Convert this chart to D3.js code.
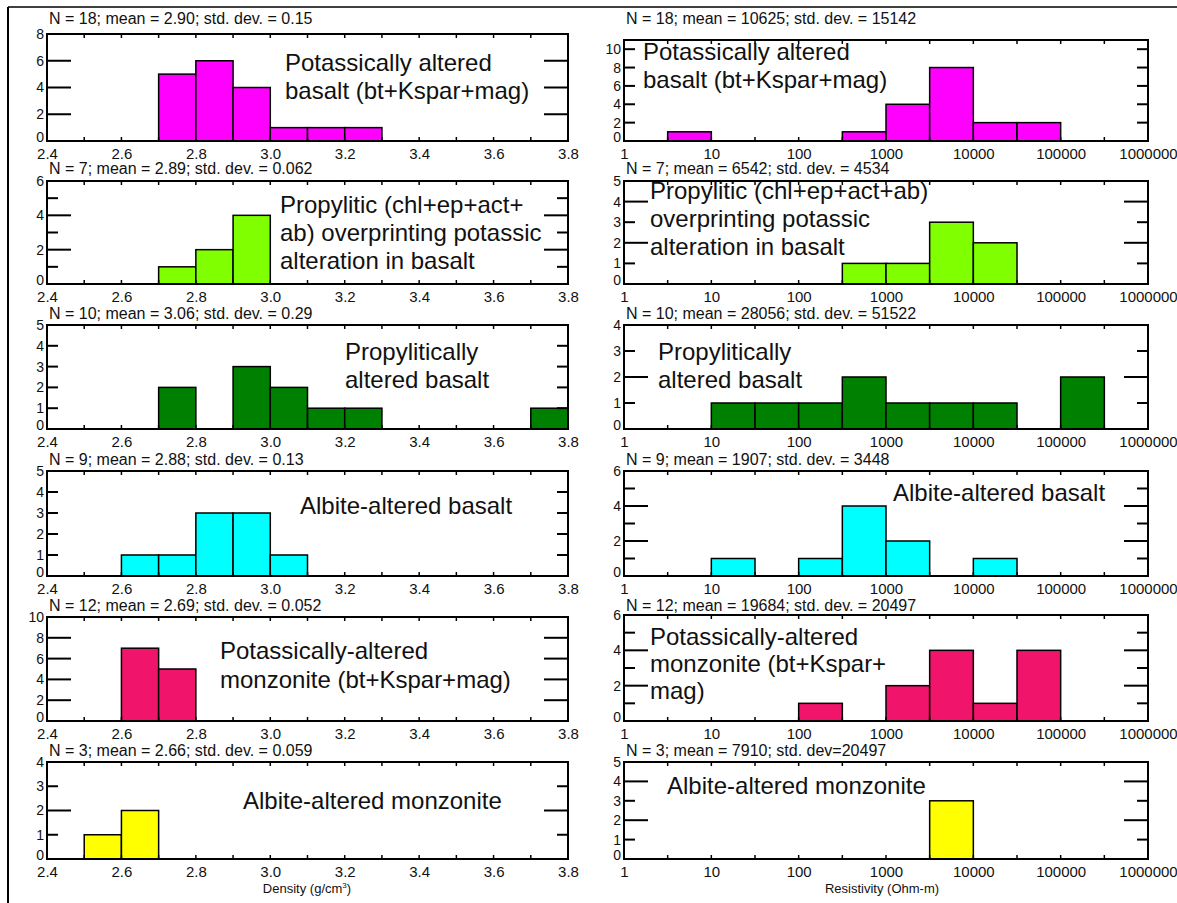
<!DOCTYPE html>
<html><head><meta charset="utf-8">
<script src="https://cdn.jsdelivr.net/npm/d3@7"></script>
<style>
body{margin:0;background:#fff;}
svg{display:block;}
text{font-family:"Liberation Sans",Arial,sans-serif;fill:#111;}
</style></head>
<body><svg id="c" width="1177" height="903"></svg>
<script>
// ---------- DATA ----------
const densityEdges = [2.4,2.5,2.6,2.7,2.8,2.9,3.0,3.1,3.2,3.3,3.4,3.5,3.6,3.7,3.8];
const densityTickVals = [2.4,2.6,2.8,3.0,3.2,3.4,3.6,3.8];
const densityTickLabels = ["2.4","2.6","2.8","3.0","3.2","3.4","3.6","3.8"];
const resistivityEdgesExp = [0,0.5,1,1.5,2,2.5,3,3.5,4,4.5,5,5.5,6];
const resistivityTickVals = [1,10,100,1000,10000,100000,1000000];
const resistivityTickLabels = ["1","10","100","1000","10000","100000","1000000"];

const colors = ["#ff00ff","#7fff00","#008000","#00ffff","#f0146a","#ffff00"];

const densityCounts = [
  [0,0,0,5,6,4,1,1,1,0,0,0,0,0],
  [0,0,0,1,2,4,0,0,0,0,0,0,0,0],
  [0,0,0,2,0,3,2,1,1,0,0,0,0,1],
  [0,0,1,1,3,3,1,0,0,0,0,0,0,0],
  [0,0,7,5,0,0,0,0,0,0,0,0,0,0],
  [0,1,2,0,0,0,0,0,0,0,0,0,0,0]
];
const resistivityCounts = [
  [0,1,0,0,0,1,4,8,2,2,0,0],
  [0,0,0,0,0,1,1,3,2,0,0,0],
  [0,0,1,1,1,2,1,1,1,0,2,0],
  [0,0,1,0,1,4,2,0,1,0,0,0],
  [0,0,0,0,1,0,2,4,1,4,0,0],
  [0,0,0,0,0,0,0,3,0,0,0,0]
];
const densityStats = [
  "N = 18; mean = 2.90; std. dev. = 0.15",
  "N = 7; mean = 2.89; std. dev. = 0.062",
  "N = 10; mean = 3.06; std. dev. = 0.29",
  "N = 9; mean = 2.88; std. dev. = 0.13",
  "N = 12; mean = 2.69; std. dev. = 0.052",
  "N = 3; mean = 2.66; std. dev. = 0.059"
];
const resistivityStats = [
  "N = 18; mean = 10625; std. dev. = 15142",
  "N = 7; mean = 6542; std. dev. = 4534",
  "N = 10; mean = 28056; std. dev. = 51522",
  "N = 9; mean = 1907; std. dev. = 3448",
  "N = 12; mean = 19684; std. dev. = 20497",
  "N = 3; mean = 7910; std. dev=20497"
];
const densityYMax = [8,6,5,5,10,4];
const densityYLabels = [[0,2,4,6,8],[0,2,4,6],[0,1,2,3,4,5],[0,1,2,3,4,5],[0,2,4,6,8,10],[0,1,2,3,4]];
const densityYTicks = [[2,4,6],[1,2,3,4,5],[1,2,3,4],[1,2,3,4],[2,4,6,8],[1,2,3]];
const densityLongTicks = [[2,4,6],[2,4],[],[],[2,4,6,8],[2]];
const resistivityYMax = [11,5,4,6,6,5];
const resistivityYLabels = [[0,2,4,6,8,10],[0,1,2,3,4,5],[0,1,2,3,4],[0,2,4,6],[0,2,4,6],[0,1,2,3,4,5]];
const resistivityYTicks = [[2,4,6,8,10],[1,2,3,4],[1,2,3],[1,2,3,4,5],[1,2,3,4,5],[1,2,3,4]];
const resistivityLongTicks = [[],[2,4],[2],[2,4],[2,4],[2,4]];

const densityNotes = [
  ["Potassically altered","basalt (bt+Kspar+mag)"],
  ["Propylitic (chl+ep+act+","ab) overprinting potassic","alteration in basalt"],
  ["Propylitically","altered basalt"],
  ["Albite-altered basalt"],
  ["Potassically-altered","monzonite (bt+Kspar+mag)"],
  ["Albite-altered monzonite"]
];
const resistivityNotes = [
  ["Potassically altered","basalt (bt+Kspar+mag)"],
  ["Propylitic (chl+ep+act+ab)","overprinting potassic","alteration in basalt"],
  ["Propylitically","altered basalt"],
  ["Albite-altered basalt"],
  ["Potassically-altered","monzonite (bt+Kspar+","mag)"],
  ["Albite-altered monzonite"]
];

// ---------- LAYOUT ----------
const leftTop = [34,181,325,471,617,762];
const rightTop = [40,181,325,471,615,762];
const rowBot = [141,284,429,576,721,859];
const titleBase = [24,174,319,465,611,756];
const leftX = [47,568];
const rightX = [624,1148];
const densNoteX = [285,280,345,300,220,243];
const densNoteY = [71,213,360,514,659,809];
const densNoteGap = [28,28,28,28,29,28];
const resNoteX = [643,650,658,893,650,667];
const resNoteY = [60,199,360,501,645,794];
const resNoteGap = [28,28,28,28,27,28];

const svg = d3.select("#c");
svg.append("line").attr("x1",8).attr("x2",8).attr("y1",7).attr("y2",903).attr("stroke","#000").attr("stroke-width",2);
svg.append("line").attr("x1",8).attr("x2",1177).attr("y1",7).attr("y2",7).attr("stroke","#000").attr("stroke-width",1.5);

function panel(o){
  const g = svg.append("g");
  const {x, y, x0, x1, top, bot} = o;
  g.selectAll("rect.bar").data(o.bars).enter().append("rect")
    .attr("x", d=>x(d.a)).attr("width", d=>x(d.b)-x(d.a))
    .attr("y", d=>y(d.c)).attr("height", d=>y(0)-y(d.c))
    .attr("fill", o.color).attr("stroke","#000").attr("stroke-width",1.5);
  g.append("rect").attr("x",x0).attr("y",top).attr("width",x1-x0).attr("height",bot-top)
    .attr("fill","none").attr("stroke","#000").attr("stroke-width",2);
  o.yTicks.forEach(v=>{
    const len = o.longTicks.includes(v) ? 24 : 11;
    g.append("line").attr("x1",x0).attr("x2",x0+len).attr("y1",y(v)).attr("y2",y(v)).attr("stroke","#000").attr("stroke-width",2);
    g.append("line").attr("x1",x1).attr("x2",x1-len).attr("y1",y(v)).attr("y2",y(v)).attr("stroke","#000").attr("stroke-width",2);
  });
  o.xMinor.forEach(v=>{
    g.append("line").attr("x1",x(v)).attr("x2",x(v)).attr("y1",bot).attr("y2",bot-4).attr("stroke","#000").attr("stroke-width",1.5);
    g.append("line").attr("x1",x(v)).attr("x2",x(v)).attr("y1",top).attr("y2",top+4).attr("stroke","#000").attr("stroke-width",1.5);
  });
  const ya = g.append("g").attr("transform",`translate(${x0},0)`)
    .call(d3.axisLeft(y).tickValues(o.yLabels).tickSize(0).tickPadding(3).tickFormat(d3.format("d")));
  ya.select(".domain").remove();
  ya.selectAll("text").style("font-size","14px").style("font-family","Liberation Sans, Arial, sans-serif").attr("fill","#111")
    .attr("dy", d=> d===0 ? "0.05em" : "0.32em");
  const xa = g.append("g").attr("transform",`translate(0,${bot})`)
    .call(d3.axisBottom(x).tickValues(o.xLabelVals).tickSize(0).tickPadding(7).tickFormat((d,i)=>o.xLabelText[i]));
  xa.select(".domain").remove();
  xa.selectAll("text").style("font-size","15px").style("font-family","Liberation Sans, Arial, sans-serif").attr("fill","#111");
  g.append("text").attr("x",x0+2).attr("y",o.titleY).style("font-size","16px").text(o.stats);
  o.notes.forEach((t,i)=>{
    g.append("text").attr("x",o.noteX).attr("y",o.noteY+i*o.noteGap).style("font-size","24px").text(t);
  });
}

for(let r=0;r<6;r++){
  const xd = d3.scaleLinear().domain([2.4,3.8]).range(leftX);
  const yd = d3.scaleLinear().domain([0,densityYMax[r]]).range([rowBot[r],leftTop[r]]);
  const dbars = [];
  densityCounts[r].forEach((c,i)=>{ if(c>0) dbars.push({a:densityEdges[i],b:densityEdges[i+1],c:c}); });
  panel({x:xd,y:yd,bars:dbars,yLabels:densityYLabels[r],yTicks:densityYTicks[r],longTicks:densityLongTicks[r],
    xLabelVals:densityTickVals,xLabelText:densityTickLabels,
    xMinor:densityEdges.slice(1,-1),stats:densityStats[r],notes:densityNotes[r],
    noteX:densNoteX[r],noteY:densNoteY[r],noteGap:densNoteGap[r],color:colors[r],
    x0:leftX[0],x1:leftX[1],top:leftTop[r],bot:rowBot[r],titleY:titleBase[r]});
  const xr = d3.scaleLog().domain([1,1e6]).range(rightX);
  const yr = d3.scaleLinear().domain([0,resistivityYMax[r]]).range([rowBot[r],rightTop[r]]);
  const rbars = [];
  resistivityCounts[r].forEach((c,i)=>{ if(c>0) rbars.push({a:Math.pow(10,resistivityEdgesExp[i]),b:Math.pow(10,resistivityEdgesExp[i+1]),c:c}); });
  panel({x:xr,y:yr,bars:rbars,yLabels:resistivityYLabels[r],yTicks:resistivityYTicks[r],longTicks:resistivityLongTicks[r],
    xLabelVals:resistivityTickVals,xLabelText:resistivityTickLabels,
    xMinor:resistivityEdgesExp.slice(1,-1).map(e=>Math.pow(10,e)),stats:resistivityStats[r],notes:resistivityNotes[r],
    noteX:resNoteX[r],noteY:resNoteY[r],noteGap:resNoteGap[r],color:colors[r],
    x0:rightX[0],x1:rightX[1],top:rightTop[r],bot:rowBot[r],titleY:titleBase[r]});
}
const dt = svg.append("text").attr("x",307).attr("y",893).attr("text-anchor","middle").style("font-size","13px");
dt.append("tspan").text("Density (g/cm");
dt.append("tspan").attr("dy",-5).style("font-size","8px").text("3");
dt.append("tspan").attr("dy",5).text(")");
svg.append("text").attr("x",882).attr("y",893).attr("text-anchor","middle").style("font-size","13px").text("Resistivity (Ohm-m)");
</script></body></html>
